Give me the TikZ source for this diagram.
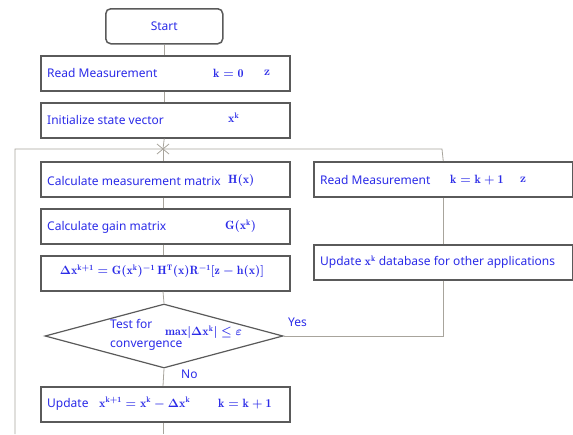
\documentclass[tikz,border=0pt]{standalone}
\usepackage{fontspec}
\setsansfont{Noto Sans}
\usetikzlibrary{shapes.geometric}
\definecolor{txtblue}{HTML}{2B2BE8}
\definecolor{boxgray}{HTML}{5A5A5A}
\definecolor{linegray}{HTML}{A8A49C}
% upright bold formula letters
\newcommand{\fm}[1]{$\mathrm{#1}$}
% capital delta taken from the math fonts
\newcommand{\Dl}{\mbox{$\Delta$}}

\begin{document}
\begin{tikzpicture}[x=1pt,y=-1pt,
  box/.style={draw=boxgray, line width=1.5pt, fill=white, minimum width=249pt,
              minimum height=35pt, inner sep=0pt, anchor=north west},
  lbl/.style={text=txtblue, font=\sffamily\fontsize{12}{14}\selectfont, anchor=west, inner sep=0pt},
  mth/.style={text=txtblue, font=\boldmath\fontsize{12}{14}\selectfont, anchor=west, inner sep=0pt},
  conn/.style={draw=linegray, line width=0.8pt}]
\useasboundingbox (0,0) rectangle (573,434);

% loop frame and junction points
\coordinate (jn) at (163,149);
\coordinate (lt) at (15,149);
\coordinate (lb) at (15,434);
\coordinate (rt) at (442,149);
\coordinate (bot) at (163,434);

% main column
\node[box, rounded corners=5pt, minimum width=117pt] (start) at (105,8) {};
\node[lbl, anchor=center] (starttxt) at (start.center) {Start};

\node[box] (read) at (40,55) {};
\node[lbl] (readtxt) at (47,73) {Read Measurement};
\node[mth] (readk) at (213,73) {\fm{k=0}};
\node[mth] (readz) at (264,73) {$\mathbf{z}$};

\node[box] (init) at (40,102) {};
\node[lbl] (inittxt) at (47,120) {Initialize state vector};
\node[mth] (initx) at (228,118) {\fm{x^k}};

\node[box] (calch) at (40,161) {};
\node[lbl] (calchtxt) at (47,181) {Calculate measurement matrix};
\node[mth] (calchm) at (228,180) {\fm{H(x)}};

\node[box] (calcg) at (40,208) {};
\node[lbl] (calcgtxt) at (47,227) {Calculate gain matrix};
\node[mth] (calcgm) at (225,226) {\fm{G(x^k)}};

\node[box] (delta) at (40,255) {};
\node[mth, anchor=center] (deltam) at (162,271) {\fm{\Dl x^{k+1} = G(x^k)^{-1}\,H^T(x)R^{-1}[z-h(x)]}};

\node[draw=boxgray, line width=1.2pt, fill=white, diamond, minimum width=238pt,
      minimum height=64pt, inner sep=0pt] (test) at (164,336) {};
\node[lbl] (testa) at (110,324) {Test for};
\node[lbl] (testb) at (110,346) {convergence};
\node[mth] (testm) at (165,332) {\fm{max|\Dl x^k|\le\varepsilon}};

\node[box] (upd) at (40,386) {};
\node[lbl] (updtxt) at (47,404) {Update};
\node[mth] (updm) at (99,403) {\fm{x^{k+1}=x^k-\Dl x^k}};
\node[mth] (updk) at (218,404) {\fm{k=k+1}};

% right column
\node[box, minimum width=259pt] (read2) at (313,161) {};
\node[lbl] (read2txt) at (320,180) {Read Measurement};
\node[mth] (read2k) at (450,180) {\fm{k=k+1}};
\node[mth] (read2z) at (520,180) {$\mathbf{z}$};

\node[box, minimum width=259pt] (upd2) at (313,244) {};
\node[lbl] (upd2txt) at (320,262) {Update \textcolor{txtblue}{\boldmath\fm{x^k}} database for other applications};

% branch labels
\node[lbl] (yes) at (288,322) {Yes};
\node[lbl] (no) at (181,374) {No};

% connectors
\draw[conn] (start.south) -- (start.south |- read.north);
\draw[conn] (start.south |- read.south) -- (start.south |- init.north);
\draw[conn] (start.south |- init.south) -- (jn);
\draw[conn] (jn) -- (jn |- calch.north);
\draw[conn] (jn |- calch.south) -- (jn |- calcg.north);
\draw[conn] (jn |- calcg.south) -- (jn |- delta.north);
\draw[conn] (jn |- delta.south) -- (test.north);
\draw[conn] (test.south) -- (jn |- upd.north);
\draw[conn] (jn |- upd.south) -- (bot);
\draw[conn] (lb) -- (lt) -- (rt) -- (read2.north);
\draw[conn] (read2.south) -- (upd2.north);
\draw[conn] (upd2.south) -- (upd2.south |- test.east) -- (test.east);
% merge mark where the loop joins the main column
\draw[conn] ([shift={(-6,-5)}]jn) -- ([shift={(6,5)}]jn);
\draw[conn] ([shift={(-6,5)}]jn) -- ([shift={(6,-5)}]jn);
\end{tikzpicture}
\end{document}
